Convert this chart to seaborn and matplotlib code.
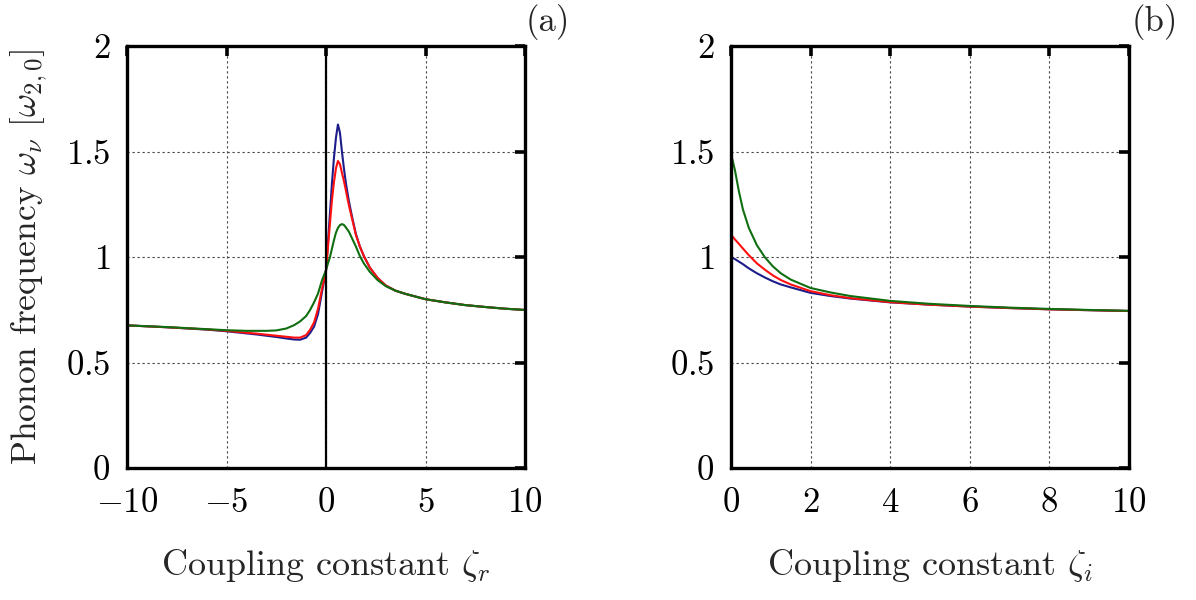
import seaborn as sns
import matplotlib.pyplot as plt
from matplotlib.ticker import FuncFormatter

sns.set_style("white")
plt.rcParams['font.family'] = ['cmr10', 'DejaVu Serif']
plt.rcParams['mathtext.fontset'] = 'cm'
plt.rcParams['axes.unicode_minus'] = False

# panel (a): real coupling constant
za = [-10, -8, -6, -5, -4, -3.5, -3, -2.5, -2, -1.6, -1.3, -1.0, -0.8, -0.6, -0.4, -0.2,
      0, 0.1, 0.2, 0.3, 0.4, 0.5, 0.6, 0.7, 0.8, 0.9, 1.0, 1.15, 1.3, 1.5, 1.7, 1.9,
      2.2, 2.6, 3.0, 3.5, 4.0, 5.0, 6.0, 7.0, 8.0, 9.0, 10.0]
blue_a = [0.676, 0.667, 0.656, 0.648, 0.638, 0.633, 0.627, 0.621, 0.614, 0.609, 0.608, 0.618,
          0.640, 0.670, 0.73, 0.835, 0.935, 1.07, 1.21, 1.35, 1.47, 1.565, 1.628, 1.59, 1.50,
          1.42, 1.35, 1.265, 1.195, 1.11, 1.05, 1.005, 0.95, 0.90, 0.865, 0.84, 0.825, 0.80,
          0.785, 0.772, 0.763, 0.755, 0.749]
red_a = [0.676, 0.667, 0.657, 0.650, 0.641, 0.637, 0.632, 0.627, 0.622, 0.618, 0.618, 0.630,
         0.655, 0.69, 0.755, 0.85, 0.935, 1.05, 1.16, 1.27, 1.355, 1.42, 1.455, 1.44, 1.40,
         1.36, 1.315, 1.245, 1.185, 1.105, 1.05, 1.005, 0.95, 0.90, 0.865, 0.84, 0.825, 0.80,
         0.785, 0.772, 0.763, 0.755, 0.749]
green_a = [0.676, 0.668, 0.658, 0.653, 0.650, 0.650, 0.650, 0.652, 0.661, 0.677, 0.695, 0.720,
           0.749, 0.785, 0.827, 0.89, 0.938, 0.97, 1.00, 1.04, 1.08, 1.115, 1.138, 1.151, 1.156,
           1.152, 1.14, 1.12, 1.09, 1.05, 1.005, 0.97, 0.93, 0.89, 0.862, 0.84, 0.825, 0.80,
           0.785, 0.772, 0.763, 0.755, 0.749]

# panel (b): imaginary coupling constant
zb = [0, 0.1, 0.2, 0.3, 0.45, 0.65, 0.85, 1.05, 1.25, 1.5, 2, 2.5, 3, 4, 5, 6, 7, 8, 9, 10]
blue_b = [1.0, 0.99, 0.978, 0.966, 0.946, 0.923, 0.903, 0.885, 0.87, 0.856, 0.83, 0.815,
          0.803, 0.785, 0.774, 0.765, 0.758, 0.752, 0.748, 0.744]
red_b = [1.106, 1.083, 1.062, 1.04, 1.008, 0.970, 0.94, 0.913, 0.891, 0.87, 0.838, 0.819,
         0.805, 0.786, 0.774, 0.765, 0.758, 0.752, 0.748, 0.744]
green_b = [1.49, 1.41, 1.31, 1.225, 1.137, 1.056, 0.999, 0.956, 0.923, 0.893, 0.853, 0.832,
           0.815, 0.792, 0.778, 0.768, 0.760, 0.754, 0.749, 0.745]

colors = ['#1c1c8a', '#ff1010', '#0f6e0f']

fig = plt.figure(figsize=(11.96, 6), dpi=100)
ax1 = fig.add_axes([127/1196, 132/600, 398/1196, 422/600])
ax2 = fig.add_axes([731/1196, 132/600, 398/1196, 422/600])

fmt = FuncFormatter(lambda v, p: "$%g$" % v if v >= 0 else r"$-%g$" % (-v))


def style(ax, xt):
    ax.set_ylim(0, 2)
    ax.set_xlim(xt[0], xt[-1])
    ax.set_xticks(xt)
    ax.set_yticks([0, 0.5, 1, 1.5, 2])
    ax.xaxis.set_major_formatter(fmt)
    ax.yaxis.set_major_formatter(fmt)
    ax.grid(True, color='#444444', linestyle=(0, (2, 2.5)), linewidth=0.8)
    for s in ax.spines.values():
        s.set_linewidth(2.4)
        s.set_color('black')
    ax.tick_params(direction='in', length=7, width=2.6, top=True, right=True,
                   labelsize=25, colors='black', pad=12)
    ax.tick_params(axis='x', pad=14)


for ax, x, ys in [(ax1, za, [blue_a, red_a, green_a]), (ax2, zb, [blue_b, red_b, green_b])]:
    for y, c in zip(ys, colors):
        sns.lineplot(x=x, y=y, color=c, linewidth=1.5, ax=ax, legend=False)

ax1.axvline(0, color='black', linewidth=1.6)
style(ax1, [-10, -5, 0, 5, 10])
style(ax2, [0, 2, 4, 6, 8, 10])

ax1.set_xlabel(r"Coupling constant $\zeta_r$", fontsize=26, labelpad=20)
ax2.set_xlabel(r"Coupling constant $\zeta_i$", fontsize=26, labelpad=20)
ax1.set_ylabel(r"Phonon frequency $\omega_\nu$ $[\omega_{2,0}]$", fontsize=25.5, labelpad=12)

fig.text(548/1196, 1 - 22/600, "(a)", fontsize=25, ha='center', va='center')
fig.text(1155/1196, 1 - 22/600, "(b)", fontsize=25, ha='center', va='center')

fig.savefig("out.png", dpi=100)
